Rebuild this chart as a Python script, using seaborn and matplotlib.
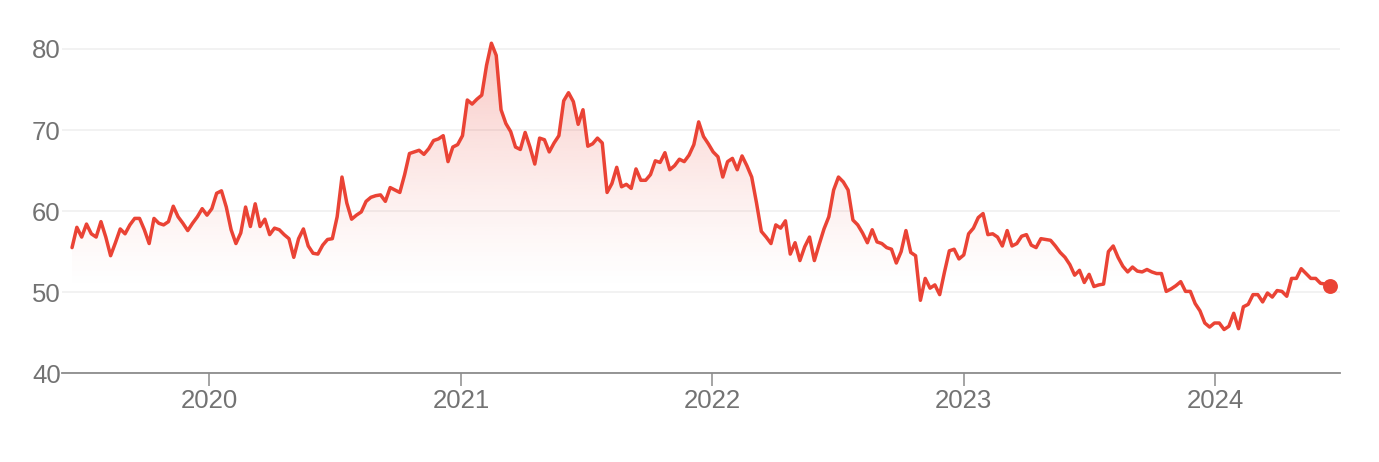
import numpy as np
import pandas as pd
import matplotlib
matplotlib.use("Agg")
import matplotlib.pyplot as plt
import matplotlib.dates as mdates
from matplotlib.colors import to_rgb
from matplotlib.patches import PathPatch
import seaborn as sns

# ---- data (weekly closing prices) ----
start_date = "2019-06-16"

prices_2019_2020 = [55.5, 58.0, 56.8, 58.4, 57.2, 56.8, 58.7, 56.8, 54.5, 56.1, 57.8, 57.2,
                    58.3, 59.1, 59.1, 57.7, 56.0, 59.1, 58.5, 58.3, 58.7, 60.6, 59.3, 58.5,
                    57.6, 58.5, 59.3, 60.3, 59.5, 60.3, 62.2, 62.5, 60.5, 57.7, 56.0, 57.3,
                    60.5, 58.1, 60.9, 58.1, 59.0, 57.1, 57.9, 57.7, 57.1, 56.6, 54.3, 56.6,
                    57.8, 55.7, 54.8, 54.7, 55.8, 56.5, 56.6, 59.3]
prices_2020b = [64.2, 61.0, 59.0, 59.5, 59.9, 61.2, 61.7, 61.9, 62.0, 61.2, 62.9, 62.6, 62.3]
prices_2021 = [64.5, 67.1, 67.3, 67.5, 67.0, 67.7, 68.7, 68.9, 69.3, 66.1, 67.9, 68.2,
               69.3, 73.7, 73.2, 73.8, 74.3, 78.0, 80.7, 79.2, 72.5, 70.8, 69.8, 67.9,
               67.6, 69.7, 67.9, 65.8, 69.0, 68.8, 67.3, 68.4, 69.3, 73.6, 74.6, 73.5,
               70.7, 72.5, 68.0, 68.3, 69.0, 68.4, 62.3, 63.4, 65.4]
prices_2022 = [63.0, 63.3, 62.8, 65.2, 63.8, 63.8, 64.5, 66.2, 66.0, 67.2, 65.1, 65.6,
               66.4, 66.1, 66.9, 68.2, 71.0, 69.2, 68.3, 67.3, 66.7, 64.2, 66.1, 66.5,
               65.1, 66.8, 65.6, 64.2, 61.0, 57.5, 56.8, 56.0, 58.3, 57.9, 58.8, 54.7,
               56.1, 53.9, 55.6, 56.8, 53.9, 55.9, 57.8, 59.3, 62.6, 64.2]
prices_2023 = [63.6, 62.6, 58.9, 58.3, 57.3, 56.1, 57.7, 56.2, 56.0, 55.5, 55.3, 53.6,
               55.0, 57.6, 54.9, 54.5, 49.0, 51.7, 50.5, 50.9, 49.7, 52.5, 55.1, 55.3,
               54.1, 54.6, 57.2, 57.9, 59.2, 59.7, 57.1, 57.2, 56.8, 55.7, 57.6, 55.7,
               56.0, 56.9, 57.1, 55.8, 55.5, 56.6, 56.5, 56.4, 55.7, 54.9, 54.3, 53.4,
               52.1, 52.7]
prices_2024 = [51.2, 52.2, 50.7, 50.9, 51.0, 55.0, 55.7, 54.3, 53.2, 52.5, 53.1, 52.6,
               52.5, 52.8, 52.5, 52.3, 52.3, 50.1, 50.4, 50.8, 51.3, 50.1, 50.1, 48.6,
               47.7, 46.2, 45.7, 46.2, 46.2, 45.4, 45.8, 47.4, 45.5, 48.2, 48.5, 49.7,
               49.7, 48.8, 49.9, 49.4, 50.2, 50.1, 49.5, 51.7, 51.7, 52.9, 52.3, 51.7,
               51.7, 51.1, 51.0, 50.8]

y_ticks = [40, 50, 60, 70, 80]
year_labels = ["2020", "2021", "2022", "2023", "2024"]

values = (prices_2019_2020 + prices_2020b + prices_2021 + prices_2022
          + prices_2023 + prices_2024)
dates = pd.date_range(start_date, periods=len(values), freq="7D")
df = pd.DataFrame({"date": dates, "price": values})

# ---- style ----
RED = "#EA4335"
GRID = "#f1f1f1"
AXIS = "#8c8c8c"
TEXT = "#737373"

sns.set_theme(style="white")
plt.rcParams['font.family'] = ['Liberation Sans', 'DejaVu Sans']

fig = plt.figure(figsize=(13.79, 4.62), dpi=100)
ax = fig.add_axes([0.045, 0.192, 0.9268, 0.7548])

ymin, ymax = 40, 83
pad = pd.Timedelta(days=14.5)
xmin, xmax = dates[0] - pad, dates[-1] + pad

# gradient fill under the line, fading out towards the 50 level
xn = mdates.date2num(dates)
n = 256
lev = np.linspace(ymin, ymax, n)
alpha = np.clip((lev - 50.0) / (81.0 - 50.0), 0, 1) ** 1.3 * 0.30
rgba = np.zeros((n, 1, 4))
rgba[..., :3] = to_rgb(RED)
rgba[:, 0, 3] = alpha
im = ax.imshow(rgba, extent=[xn[0], xn[-1], ymin, ymax], origin="lower",
               aspect="auto", zorder=1, interpolation="bilinear")
poly = ax.fill_between(xn, values, ymin, facecolor="none", edgecolor="none")
clip = PathPatch(poly.get_paths()[0], transform=ax.transData,
                 facecolor="none", edgecolor="none")
ax.add_patch(clip)
im.set_clip_path(clip)

sns.lineplot(data=df, x="date", y="price", color=RED, linewidth=2.5,
             ax=ax, zorder=3)
last = df.iloc[-1]
ax.scatter([last["date"]], [last["price"]], s=115, color=RED, zorder=4,
           clip_on=False, linewidths=0)

ax.set_xlim(xmin, xmax)
ax.set_ylim(ymin, ymax)
ax.set_yticks(y_ticks)
ax.set_yticklabels([str(t) for t in y_ticks])
ax.set_xticks([pd.Timestamp(f"{y}-01-01") for y in year_labels])
ax.set_xticklabels(year_labels)
ax.set_xlabel("")
ax.set_ylabel("")

ax.grid(axis="y", color=GRID, linewidth=1.3, zorder=0)
ax.grid(axis="x", visible=False)
for s in ["top", "right", "left"]:
    ax.spines[s].set_visible(False)
ax.spines["bottom"].set_color(AXIS)
ax.spines["bottom"].set_linewidth(1.3)
ax.spines["bottom"].set_zorder(5)

ax.tick_params(axis="x", direction="out", length=9, width=1.1, color=AXIS,
               labelcolor=TEXT, labelsize=18.5, pad=2, bottom=True)
ax.tick_params(axis="y", length=0, labelcolor=TEXT, labelsize=18.5, pad=1)
ax.set_facecolor("white")

fig.savefig("out.png", dpi=100, facecolor="white")
